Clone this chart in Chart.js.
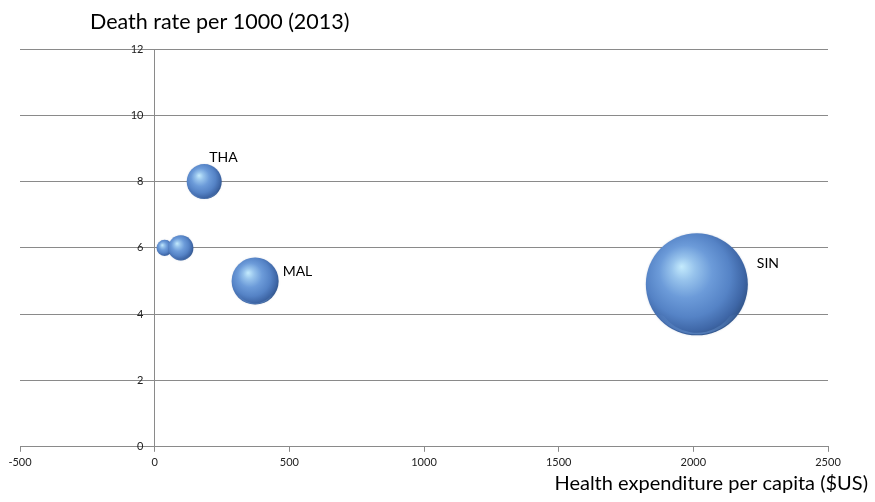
<!DOCTYPE html>
<html>
<head>
<meta charset="utf-8">
<script src="https://cdn.jsdelivr.net/npm/chart.js@4.4.1/dist/chart.umd.min.js"></script>
<style>
    body { margin: 0; background: #fff; }
    .containerGraphic { width: 875px; height: 502px; position: relative; }
</style>
</head>
<body>
<div class="containerGraphic">
    <canvas id="bubbleChart" width="875" height="502"></canvas>
</div>
<script>
// health expenditure per capita ($US) vs death rate per 1000
const countries = ["", "", "THA", "MAL", "SIN"];
const expenditure = [37, 97, 184, 373, 2013];
const deathRate = [6, 6, 8, 5, 4.9];
const bubbleSize = [1.4, 3.4, 6.6, 11.9, 56];

const xTicks = [-500, 0, 500, 1000, 1500, 2000, 2500];
const yTicks = [0, 2, 4, 6, 8, 10, 12];

const FONT = "Lato, 'Open Sans', sans-serif";
const MAX_RADIUS = 51;
const maxSize = Math.max(...bubbleSize);

// where each country name sits relative to its bubble centre
const labelOffsets = {
    THA: (r) => [5, -24],
    MAL: (r) => [r + 4, -10],
    SIN: (r) => [r + 9, -21]
};

const points = expenditure.map((x, i) => ({
    x: x,
    y: deathRate[i],
    r: MAX_RADIUS * Math.sqrt(bubbleSize[i] / maxSize)
}));

// paints each bubble as a shaded sphere, then writes its name
const sphereShading = {
    id: "sphereShading",
    afterDatasetsDraw(chart) {
        const ctx = chart.ctx;
        const meta = chart.getDatasetMeta(0);
        ctx.save();
        meta.data.forEach((el, i) => {
            const r = el.options.radius;
            const cx = el.x, cy = el.y;

            const g = ctx.createRadialGradient(cx - r * 0.3, cy - r * 0.35, 0, cx - r * 0.12, cy - r * 0.12, r * 1.15);
            g.addColorStop(0, "#c4ebfd");
            g.addColorStop(0.2, "#97c3ec");
            g.addColorStop(0.45, "#6c9bd9");
            g.addColorStop(0.72, "#5583c6");
            g.addColorStop(0.92, "#3e66a6");
            g.addColorStop(1, "#34588f");

            ctx.shadowColor = "rgba(60, 90, 140, 0.25)";
            ctx.shadowBlur = Math.max(1.5, r * 0.04);
            ctx.beginPath();
            ctx.arc(cx, cy, r, 0, Math.PI * 2);
            ctx.fillStyle = g;
            ctx.fill();
            ctx.shadowBlur = 0;

            // soft lighter rim along the bottom
            const rim = ctx.createLinearGradient(cx, cy + r * 0.5, cx, cy + r);
            rim.addColorStop(0, "rgba(110, 155, 215, 0)");
            rim.addColorStop(1, "rgba(110, 155, 215, 0.5)");
            ctx.beginPath();
            ctx.arc(cx, cy, r * 0.98, 0.2 * Math.PI, 0.8 * Math.PI);
            ctx.arc(cx, cy + r * 0.15, r * 0.8, 0.8 * Math.PI, 0.2 * Math.PI, true);
            ctx.closePath();
            ctx.fillStyle = rim;
            ctx.fill();

            const name = countries[i];
            if (name && labelOffsets[name]) {
                const [dx, dy] = labelOffsets[name](r);
                ctx.fillStyle = "#000";
                ctx.font = "14px " + FONT;
                ctx.textAlign = "left";
                ctx.textBaseline = "middle";
                ctx.fillText(name, cx + dx, cy + dy);
            }
        });
        ctx.restore();
    }
};

// axis titles sit outside the plot area
const axisTitles = {
    id: "axisTitles",
    afterDraw(chart) {
        const ctx = chart.ctx;
        ctx.save();
        ctx.fillStyle = "#000";
        ctx.textBaseline = "middle";
        ctx.textAlign = "left";
        ctx.font = "21.5px " + FONT;
        ctx.fillText("Death rate per 1000 (2013)", 90, 22);
        ctx.textAlign = "right";
        ctx.font = "20px " + FONT;
        ctx.fillText("Health expenditure per capita ($US)", 868, 484);
        ctx.restore();
    }
};

const ctx = document.getElementById("bubbleChart").getContext("2d");

new Chart(ctx, {
    type: "bubble",
    data: {
        labels: countries,
        datasets: [{
            data: points,
            backgroundColor: "rgba(0,0,0,0)",
            borderColor: "rgba(0,0,0,0)",
            borderWidth: 0
        }]
    },
    options: {
        responsive: false,
        animation: false,
        events: [],
        layout: {
            autoPadding: false,
            padding: { left: 20, right: 47, top: 49, bottom: 29 }
        },
        plugins: {
            legend: { display: false },
            tooltip: { enabled: false }
        },
        scales: {
            x: {
                type: "linear",
                min: -500,
                max: 2500,
                afterBuildTicks: (axis) => { axis.ticks = xTicks.map(v => ({ value: v })); },
                grid: {
                    drawOnChartArea: false,
                    drawTicks: true,
                    tickLength: 5,
                    color: "#8a8a8a"
                },
                border: { color: "#8a8a8a" },
                ticks: {
                    color: "#222",
                    padding: 4,
                    maxRotation: 0,
                    font: { family: FONT, size: 11 },
                    callback: (v) => String(v)
                }
            },
            y: {
                type: "linear",
                position: { x: 0 },
                min: 0,
                max: 12,
                afterBuildTicks: (axis) => { axis.ticks = yTicks.map(v => ({ value: v })); },
                afterFit: (axis) => { axis.width = 0; },
                grid: {
                    color: "#8a8a8a",
                    drawTicks: false
                },
                border: { color: "#8a8a8a" },
                ticks: {
                    color: "#222",
                    font: { family: FONT, size: 11 },
                    // labels hug the axis line at x = 0, nudge them left a little
                    callback: (v) => String(v) + "\u00a0\u00a0\u00a0\u00a0"
                }
            }
        }
    },
    plugins: [sphereShading, axisTitles]
});
</script>
</body>
</html>
